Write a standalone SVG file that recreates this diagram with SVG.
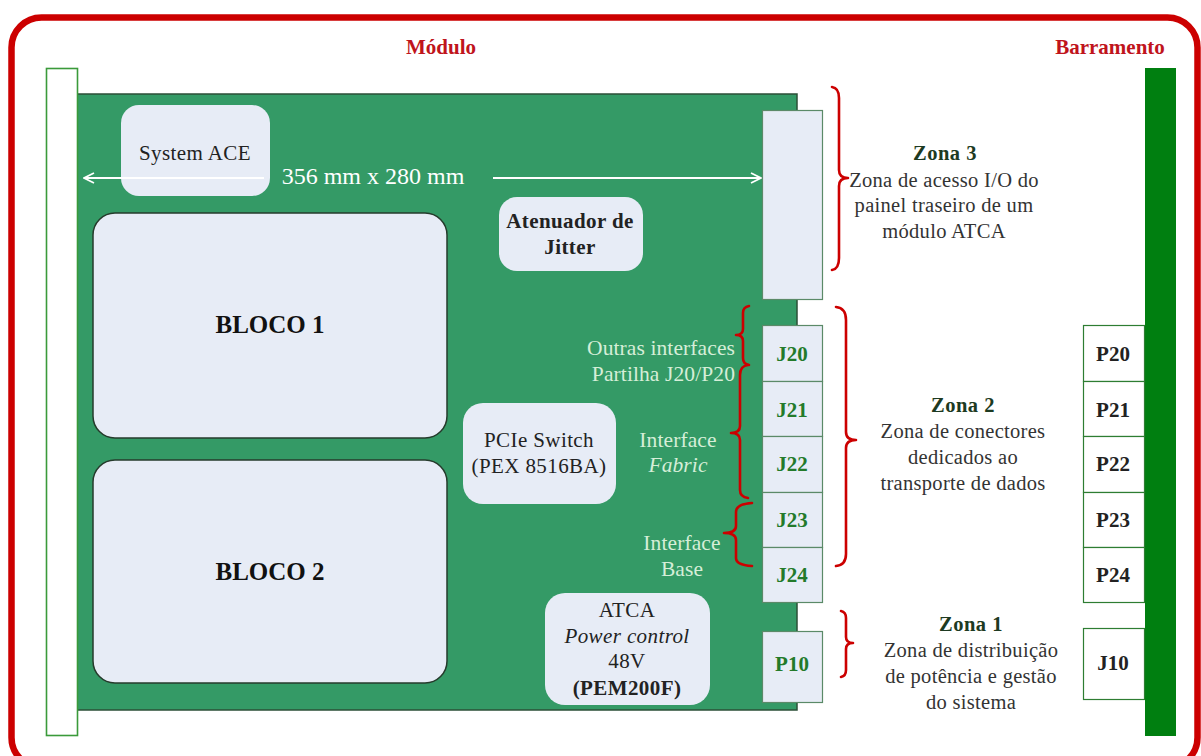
<svg xmlns="http://www.w3.org/2000/svg" width="1201" height="756" viewBox="0 0 1201 756">
  <defs>
    <marker id="openArrow" viewBox="0 0 12 12" refX="11" refY="6" markerWidth="12" markerHeight="12" markerUnits="userSpaceOnUse" orient="auto-start-reverse">
      <path d="M1,1 L11,6 L1,11" fill="none" stroke="#ffffff" stroke-width="1.8"/>
    </marker>
  </defs>
  <style>
    text { font-family: "Liberation Serif", "Times New Roman", serif; }
    .title { font-size: 21px; font-weight: bold; fill: #c0141c; }
    .chip { fill: #e7ecf6; }
    .block { fill: #e7ecf6; stroke: #263b2c; stroke-width: 1.5; }
    .lbl { font-size: 21px; letter-spacing: 0.4px; fill: #222222; text-anchor: middle; }
    .big { font-size: 25px; font-weight: bold; fill: #111111; text-anchor: middle; }
    .bold { font-weight: bold; }
    .conn { fill: #e7ecf6; stroke: #5b8a68; stroke-width: 1.2; }
    .plug { fill: #ffffff; stroke: #2e7d32; stroke-width: 1.2; }
    .jlbl { font-size: 21px; font-weight: bold; fill: #237a2a; text-anchor: middle; }
    .plbl { font-size: 21px; font-weight: bold; fill: #222222; text-anchor: middle; }
    .brace { fill: none; stroke: #cc0000; stroke-width: 2.6; stroke-linecap: round; stroke-linejoin: round; }
    .side { font-size: 21.5px; letter-spacing: 0.1px; fill: #d6eed8; }
    .zhead { font-size: 20.5px; letter-spacing: 0.5px; font-weight: bold; fill: #1d3a22; text-anchor: middle; }
    .zbody { font-size: 20.5px; letter-spacing: 0.3px; fill: #333333; text-anchor: middle; }
    .dim { stroke: #ffffff; stroke-width: 2; fill: none; }
  </style>

  <rect width="1201" height="756" fill="#ffffff"/>

  <!-- outer frame -->
  <rect x="11.5" y="17.5" width="1186" height="750" rx="30" fill="none" stroke="#cc0000" stroke-width="6.5"/>

  <text class="title" x="441" y="54" text-anchor="middle">Módulo</text>
  <text class="title" x="1110" y="54" text-anchor="middle">Barramento</text>

  <!-- board -->
  <g id="board">
    <rect x="77" y="94" width="720" height="616" fill="#349a66" stroke="#2b4f37" stroke-width="1.5"/>
  </g>
  <g id="faceplate">
    <rect x="46.5" y="68.5" width="31" height="667" fill="#ffffff" stroke="#3a9a3a" stroke-width="1.6"/>
  </g>
  <g id="backplane">
    <rect x="1145" y="68" width="31" height="668" fill="#007f10"/>
  </g>

  <!-- components -->
  <g id="system-ace">
    <rect class="chip" x="121" y="105" width="149" height="91" rx="18"/>
    <text class="lbl" x="195" y="160" font-size="22">System ACE</text>
  </g>
  <g id="bloco1">
    <rect class="block" x="93" y="213" width="354" height="225" rx="22"/>
    <text class="big" x="270" y="333">BLOCO 1</text>
  </g>
  <g id="bloco2">
    <rect class="block" x="93" y="460" width="354" height="223" rx="22"/>
    <text class="big" x="270" y="580">BLOCO 2</text>
  </g>
  <g id="jitter">
    <rect class="chip" x="499" y="197" width="144" height="74" rx="18"/>
    <text class="lbl bold" x="570" y="228">Atenuador de</text>
    <text class="lbl bold" x="570" y="254">Jitter</text>
  </g>
  <g id="pcie-switch">
    <rect class="chip" x="463" y="403" width="153" height="101" rx="20"/>
    <text class="lbl" x="539" y="447">PCIe Switch</text>
    <text class="lbl" x="539" y="473">(PEX 8516BA)</text>
  </g>
  <g id="power">
    <rect class="chip" x="545" y="593" width="165" height="112" rx="20"/>
    <text class="lbl" x="627" y="617">ATCA</text>
    <text class="lbl" x="627" y="643" font-style="italic">Power control</text>
    <text class="lbl" x="627" y="668">48V</text>
    <text class="lbl bold" x="627" y="695">(PEM200F)</text>
  </g>

  <!-- board dimension -->
  <g id="dimension">
    <line class="dim" x1="84" y1="178" x2="264" y2="178" marker-start="url(#openArrow)"/>
    <line class="dim" x1="493" y1="178" x2="761" y2="178" marker-end="url(#openArrow)"/>
    <text x="373" y="184" font-size="24" fill="#ffffff" text-anchor="middle">356 mm x 280 mm</text>
  </g>

  <!-- module connectors -->
  <g id="zone3-connector">
    <rect class="conn" x="762.5" y="110.5" width="60" height="189"/>
  </g>
  <g id="J20"><rect class="conn" x="762.5" y="325.5" width="60" height="56"/><text class="jlbl" x="792" y="361">J20</text></g>
  <g id="J21"><rect class="conn" x="762.5" y="381.5" width="60" height="55"/><text class="jlbl" x="792" y="417">J21</text></g>
  <g id="J22"><rect class="conn" x="762.5" y="436.5" width="60" height="56"/><text class="jlbl" x="792" y="471">J22</text></g>
  <g id="J23"><rect class="conn" x="762.5" y="492.5" width="60" height="55"/><text class="jlbl" x="792" y="527">J23</text></g>
  <g id="J24"><rect class="conn" x="762.5" y="547.5" width="60" height="55"/><text class="jlbl" x="792" y="582">J24</text></g>
  <g id="P10"><rect class="conn" x="762.5" y="631.5" width="60" height="71"/><text class="jlbl" x="792" y="671">P10</text></g>

  <!-- backplane connectors -->
  <g id="P20"><rect class="plug" x="1083.5" y="325.5" width="61" height="56"/><text class="plbl" x="1113" y="361">P20</text></g>
  <g id="P21"><rect class="plug" x="1083.5" y="381.5" width="61" height="55"/><text class="plbl" x="1113" y="417">P21</text></g>
  <g id="P22"><rect class="plug" x="1083.5" y="436.5" width="61" height="56"/><text class="plbl" x="1113" y="471">P22</text></g>
  <g id="P23"><rect class="plug" x="1083.5" y="492.5" width="61" height="55"/><text class="plbl" x="1113" y="527">P23</text></g>
  <g id="P24"><rect class="plug" x="1083.5" y="547.5" width="61" height="55"/><text class="plbl" x="1113" y="582">P24</text></g>
  <g id="J10"><rect class="plug" x="1083.5" y="628.5" width="61" height="71"/><text class="plbl" x="1113" y="670">J10</text></g>

  <!-- zone braces -->
  <g id="braces">
    <path class="brace" d="M832,87 Q839,88 839,98 L839,170 Q839,178 848,178 Q839,178 839,186 L839,258 Q839,269 832,270"/>
    <path class="brace" d="M836,307 Q846,308 846,320 L846,432 Q846,440 856,440 Q846,440 846,448 L846,554 Q846,565 836,566"/>
    <path class="brace" d="M841,611 Q846,612 846,618 L846,637 Q846,643 853,643 Q846,643 846,649 L846,670 Q846,676 841,677"/>
    <path class="brace" d="M749,306 Q743,307 743,313 L743,329 Q743,335 736,335 Q743,335 743,341 L743,358 Q743,364 749,365"/>
    <path class="brace" d="M748,365 Q740,366 740,375 L740,426 Q740,433 731,433 Q740,433 740,440 L740,490 Q740,497 748,498"/>
    <path class="brace" d="M752,503 Q736,504 736,512 L736,526 Q736,533 724,533 Q736,533 736,540 L736,558 Q736,565 752,566"/>
  </g>

  <!-- interface labels -->
  <g id="interface-labels">
    <text class="side" x="735" y="355" text-anchor="end">Outras interfaces</text>
    <text class="side" x="735" y="381" text-anchor="end">Partilha J20/P20</text>
    <text class="side" x="678" y="447" text-anchor="middle">Interface</text>
    <text class="side" x="678" y="472" text-anchor="middle" font-style="italic">Fabric</text>
    <text class="side" x="682" y="550" text-anchor="middle">Interface</text>
    <text class="side" x="682" y="576" text-anchor="middle">Base</text>
  </g>

  <!-- zone descriptions -->
  <g id="zona3">
    <text class="zhead" x="945" y="160">Zona 3</text>
    <text class="zbody" x="944" y="187">Zona de acesso I/O do</text>
    <text class="zbody" x="944" y="212">painel traseiro de um</text>
    <text class="zbody" x="944" y="238">módulo ATCA</text>
  </g>
  <g id="zona2">
    <text class="zhead" x="963" y="412">Zona 2</text>
    <text class="zbody" x="963" y="438">Zona de conectores</text>
    <text class="zbody" x="963" y="464">dedicados ao</text>
    <text class="zbody" x="963" y="490">transporte de dados</text>
  </g>
  <g id="zona1">
    <text class="zhead" x="971" y="631">Zona 1</text>
    <text class="zbody" x="971" y="657">Zona de distribuição</text>
    <text class="zbody" x="971" y="683">de potência e gestão</text>
    <text class="zbody" x="971" y="709">do sistema</text>
  </g>
</svg>
